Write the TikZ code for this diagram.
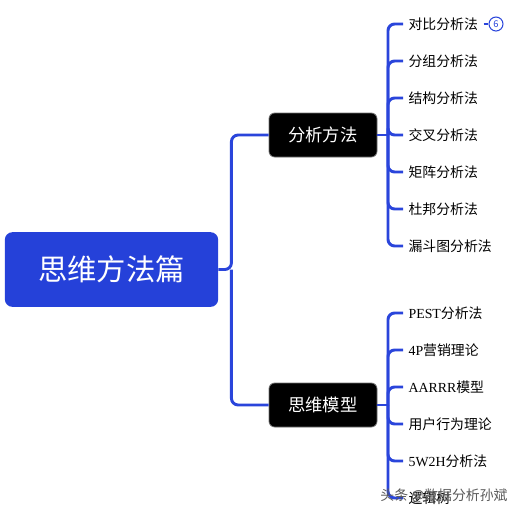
\documentclass[tikz,border=0pt]{standalone}
\usepackage{fontspec}
\setmainfont{Noto Sans CJK SC}
\newfontfamily\latinfont{Liberation Serif}
\usetikzlibrary{positioning}
\definecolor{rootblue}{HTML}{2541D9}
\definecolor{linkblue}{HTML}{2A45DB}
\definecolor{boxgray}{HTML}{707070}
\definecolor{markgray}{HTML}{5A5A5A}

\begin{document}
\begin{tikzpicture}[x=0.75pt,y=-0.75pt]
  \tikzset{link/.style={draw=linkblue,line width=2.2pt,rounded corners=5pt},
    rootbox/.style={fill=rootblue,text=white,rounded corners=2mm,minimum width=160pt,minimum height=56pt,font=\fontsize{22}{26}\selectfont},
    branchbox/.style={fill=black,draw=boxgray,line width=0.6pt,text=white,rounded corners=1.5mm,minimum width=81pt,minimum height=33pt,font=\fontsize{13}{15}\selectfont},
    leaf/.style={anchor=west,inner sep=4pt,font=\fontsize{10.4}{12}\selectfont},
    badge/.style={circle,draw=linkblue,line width=0.8pt,text=linkblue,inner sep=0pt,minimum size=10.5pt,font=\fontsize{7}{8}\selectfont}}
  \useasboundingbox (0,0) rectangle (510,512);
  \node[rootbox] (root) at (111.5,269.5) {思维方法篇};
  \node[branchbox] (methods) at (323,135) {分析方法};
  \node[branchbox] (models) at (323,405) {思维模型};
  % root to branches
  \draw[link] (root.east) -- ++(13,0) coordinate (jroot) |- (methods.west);
  \draw[link] (jroot) |- (models.west);
  % analysis methods
  \draw[link] (methods.east) -- (388,135) coordinate (jmethods);
  \foreach \name/\txt [count=\i] in {duibi/对比分析法,fenzu/分组分析法,jiegou/结构分析法,jiaocha/交叉分析法,juzhen/矩阵分析法,dubang/杜邦分析法,loudou/漏斗图分析法}{
    \node[leaf] (\name) at (403,{24+37*(\i-1)}) {\txt};
    \draw[link] (jmethods) |- (\name.west);
  }
  \node[badge] (count) at (496,24) {6};
  \draw[draw=linkblue,line width=0.8pt] (duibi.east) -- (count.west);
  % thinking models
  \draw[link] (models.east) -- (388,405) coordinate (jmodels);
  \foreach \name/\txt [count=\i] in {pest/{{\latinfont PEST}分析法},fourp/{{\latinfont 4P}营销理论},aarrr/{{\latinfont AARRR}模型},yonghu/用户行为理论,wtwoh/{{\latinfont 5W2H}分析法},luoji/逻辑树}{
    \node[leaf] (\name) at (403,{313+37*(\i-1)}) {\txt};
    \draw[link] (jmodels) |- (\name.west);
  }
  % watermark
  \node[text=markgray,font=\fontsize{10.4}{12}\selectfont] (mark) at (444,496) {头条 @数据分析孙斌};
\end{tikzpicture}
\end{document}
